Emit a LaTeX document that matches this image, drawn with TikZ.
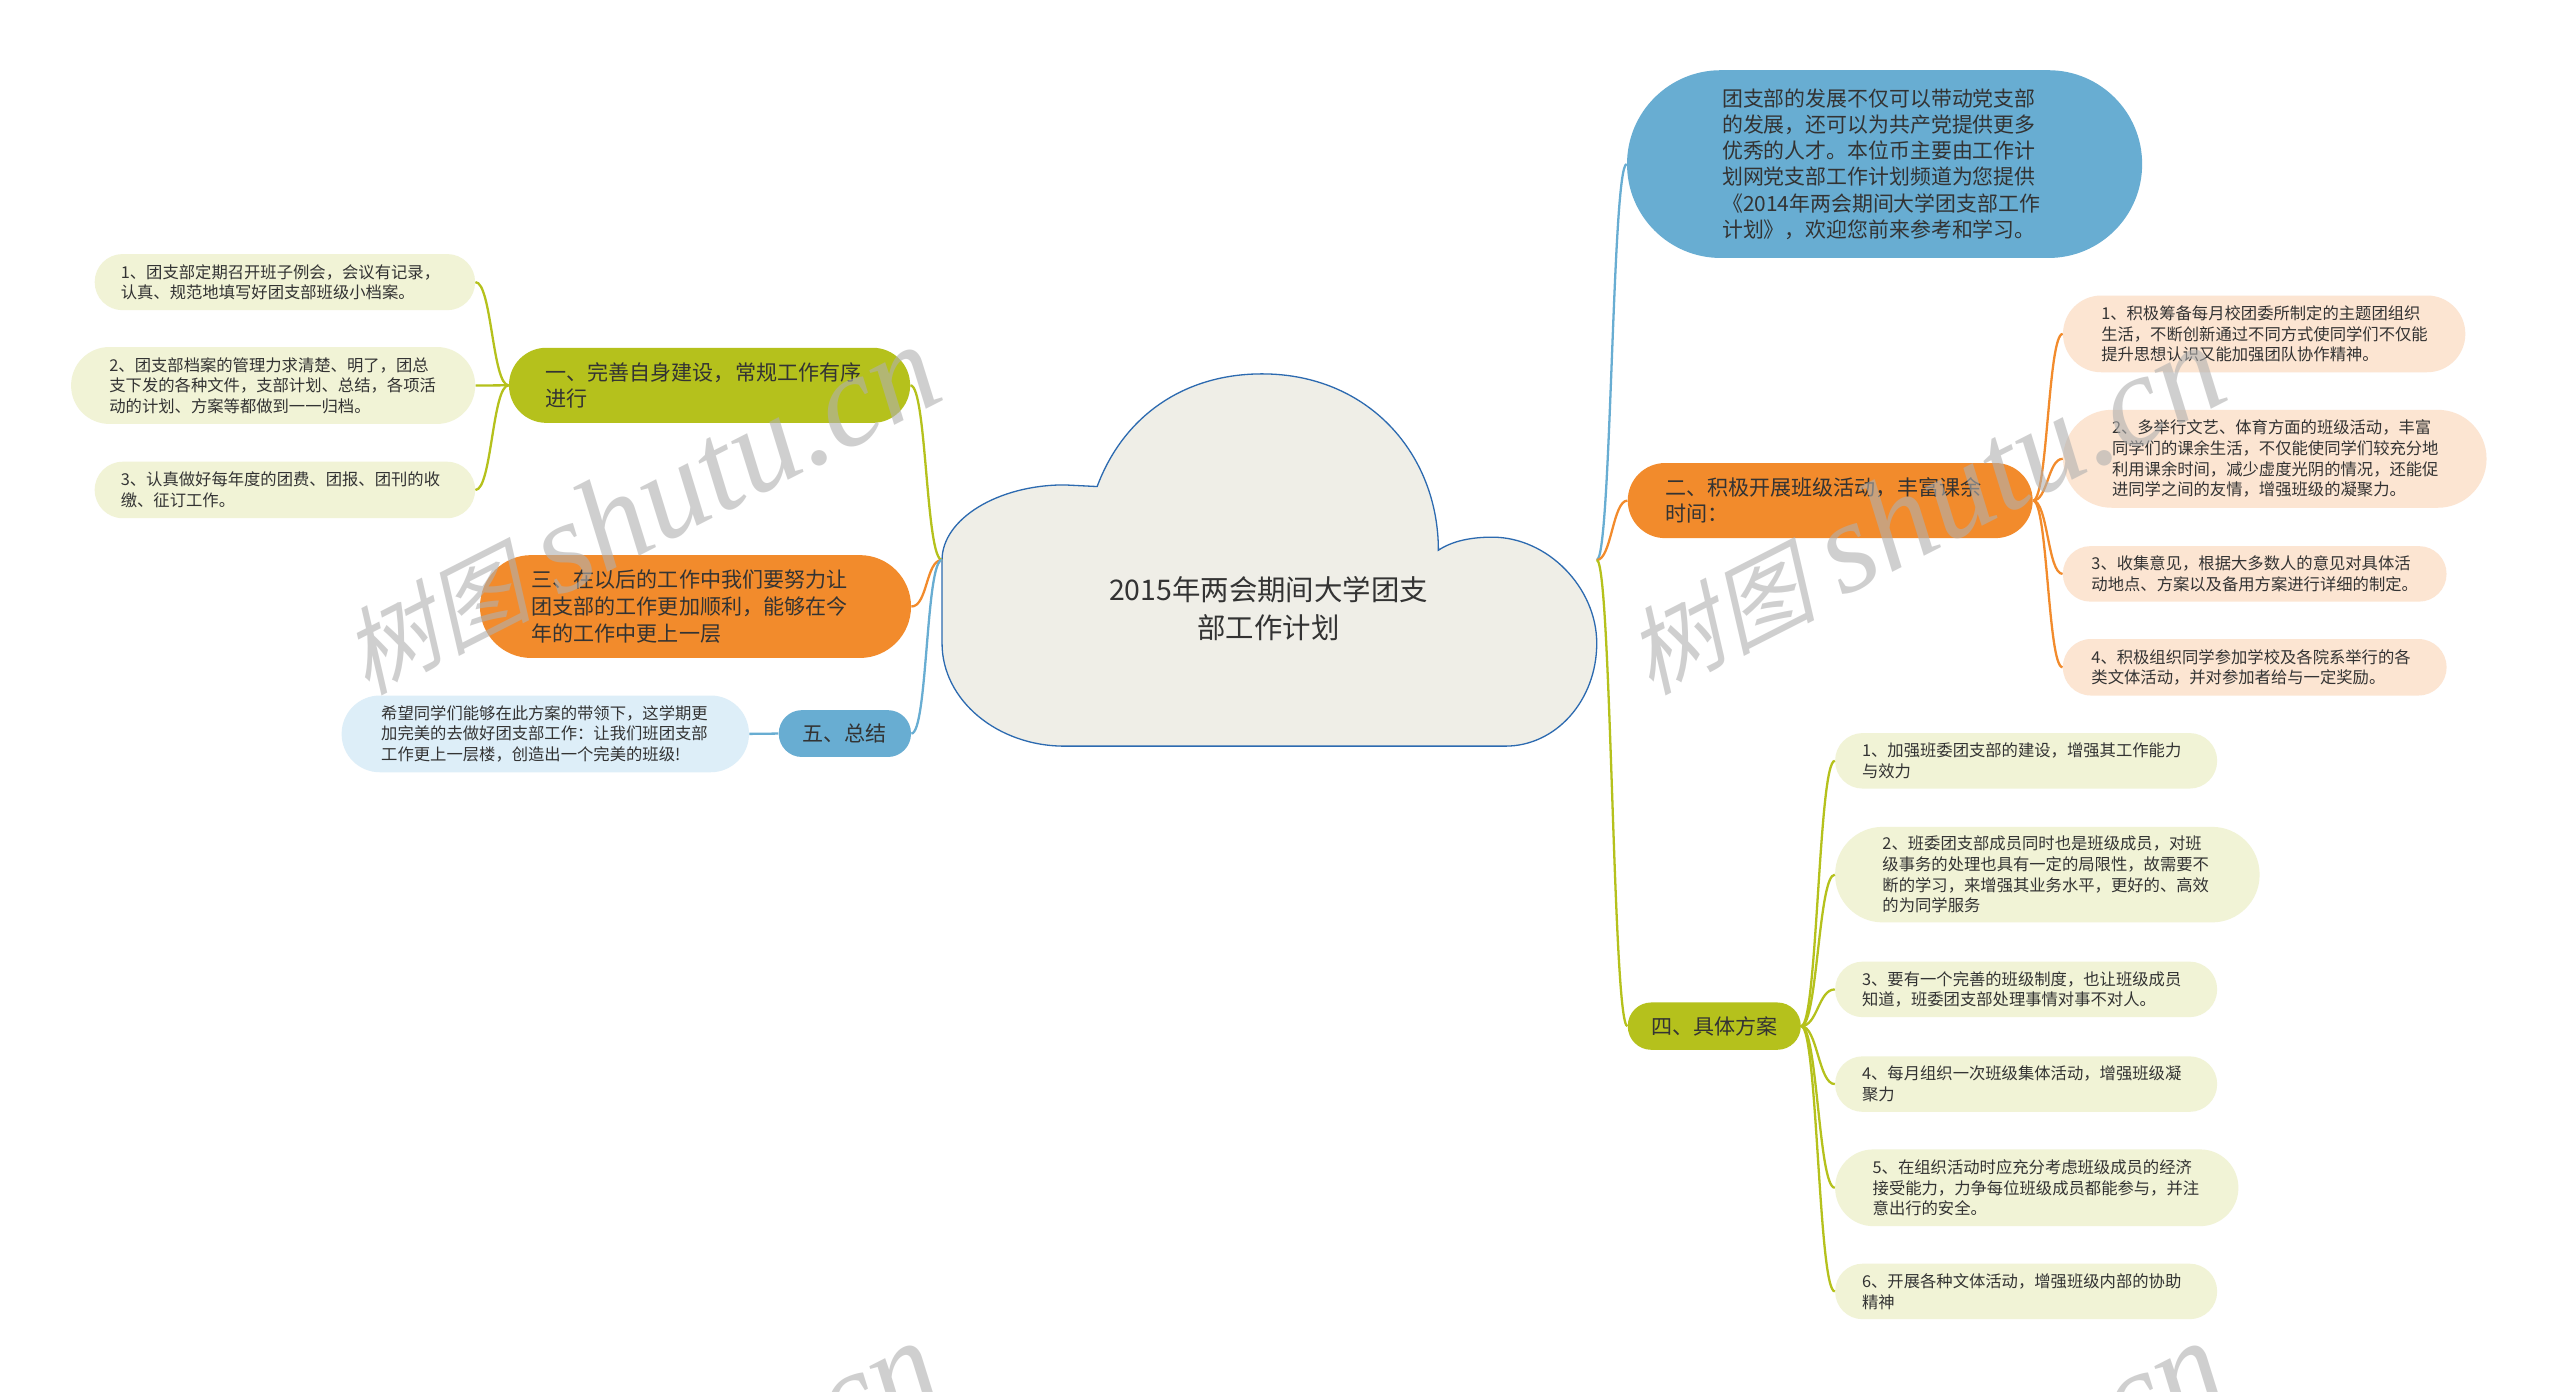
\documentclass[tikz,border=0pt]{standalone}
\usepackage{fontspec}
\usepackage{tikz}
\setmainfont{Noto Sans CJK SC}
\newfontfamily\wmcjk{Noto Sans CJK SC}[FakeSlant=0.25]
\newfontfamily\wmlatin{Liberation Serif}
\definecolor{TextGray}{HTML}{333333}
\definecolor{OliveMain}{HTML}{B5C11C}
\definecolor{OliveTint}{HTML}{F1F3D6}
\definecolor{OrangeMain}{HTML}{F28B2C}
\definecolor{OrangeTint}{HTML}{FCE5D2}
\definecolor{SkyMain}{HTML}{68ADD2}
\definecolor{SkyTint}{HTML}{DDEEF8}
\definecolor{CloudFill}{HTML}{EFEEE7}
\definecolor{CloudLine}{HTML}{2C6AB0}
\definecolor{MarkGray}{HTML}{B0B0B0}

\begin{document}
\begin{tikzpicture}[x=1pt, y=-1pt,
  every node/.style={text=TextGray, inner sep=0pt},
  leaf/.style={rectangle, align=left, font=\fontsize{10}{12.6}\selectfont},
  branch/.style={rectangle, align=left, font=\fontsize{12.9}{16.3}\selectfont},
  linkOlive/.style={OliveMain, line width=1.4pt},
  linkOrange/.style={OrangeMain, line width=1.4pt},
  linkSky/.style={SkyMain, line width=1.4pt},
  watermark/.style={rotate=27, text=MarkGray, opacity=0.6}]
  \useasboundingbox (0,0) rectangle (1568,852);
  \fill[white] (0,0) rectangle (1568,852);

  \draw[CloudLine, fill=CloudFill, line width=0.8pt]
  (577,343) .. controls (577,318) and (611,297) .. (652,297)
  -- (672,298) .. controls (688,255) and (725,229) .. (773,229)
  .. controls (838,229) and (881,278) .. (881,337)
  .. controls (890,331) and (902,329) .. (914,329)
  .. controls (948,329) and (978,360) .. (978,394)
  .. controls (978,429) and (953,457) .. (922,457) -- (652,457)
  .. controls (611,457) and (577,429) .. (577,394) -- cycle;
  \node[align=center, font=\fontsize{17.4}{23.3}\selectfont] (root) at (777,373)
  {2015年两会期间大学团支\\部工作计划};
  \coordinate (rootW) at (577,343);
  \coordinate (rootE) at (978,343);

  \node[branch, fill=OliveMain, minimum width=245.7pt, minimum height=46pt,
  text width=201pt, rounded corners=22.9pt] (b1) at (434.6,236)
  {一、完善自身建设，常规工作有序\\进行};
  \node[leaf, fill=OliveTint, minimum width=233pt, minimum height=34.4pt,
  text width=201pt, rounded corners=17.1pt] (L1) at (174.5,172.8)
  {1、团支部定期召开班子例会，会议有记录，\\认真、规范地填写好团支部班级小档案。};
  \node[leaf, fill=OliveTint, minimum width=247.5pt, minimum height=47.1pt,
  text width=200.6pt, rounded corners=23.4pt] (L2) at (167.3,236.1)
  {2、团支部档案的管理力求清楚、明了，团总\\支下发的各种文件，支部计划、总结，各项活\\动的计划、方案等都做到一一归档。};
  \node[leaf, fill=OliveTint, minimum width=233pt, minimum height=34.6pt,
  text width=201pt, rounded corners=17.2pt] (L3) at (174.5,300.1)
  {3、认真做好每年度的团费、团报、团刊的收\\缴、征订工作。};

  \node[branch, fill=OrangeMain, minimum width=264pt, minimum height=63pt,
  text width=200.8pt, rounded corners=31.4pt] (b3) at (426,371.5)
  {三、在以后的工作中我们要努力让\\团支部的工作更加顺利，能够在今\\年的工作中更上一层};

  \node[branch, align=center, fill=SkyMain, minimum width=81pt, minimum height=28.7pt,
  rounded corners=14.2pt] (b5) at (517.5,449.3) {五、总结};
  \node[leaf, fill=SkyTint, minimum width=249.5pt, minimum height=47pt,
  text width=201pt, rounded corners=23.4pt] (s1) at (334,449.5)
  {希望同学们能够在此方案的带领下，这学期更\\加完美的去做好团支部工作：让我们班团支部\\工作更上一层楼，创造出一个完美的班级!};

  \node[branch, fill=SkyMain, minimum width=315.5pt, minimum height=115pt,
  text width=199pt, rounded corners=57.4pt, font=\fontsize{12.8}{16.1}\selectfont]
  (t0) at (1154.3,100.5)
  {团支部的发展不仅可以带动党支部\\的发展，还可以为共产党提供更多\\优秀的人才。本位币主要由工作计\\划网党支部工作计划频道为您提供\\《2014年两会期间大学团支部工作\\计划》，欢迎您前来参考和学习。};

  \node[branch, fill=OrangeMain, minimum width=248pt, minimum height=46pt,
  text width=202pt, rounded corners=22.9pt] (b2) at (1121,306.6)
  {二、积极开展班级活动，丰富课余\\时间：};
  \node[leaf, fill=OrangeTint, minimum width=246.4pt, minimum height=47pt,
  text width=199.6pt, rounded corners=23.4pt] (R1) at (1386.8,204.5)
  {1、积极筹备每月校团委所制定的主题团组织\\生活，不断创新通过不同方式使同学们不仅能\\提升思想认识又能加强团队协作精神。};
  \node[leaf, fill=OrangeTint, minimum width=259.4pt, minimum height=60pt,
  text width=199.4pt, rounded corners=29.9pt] (R2) at (1393.3,281)
  {2、多举行文艺、体育方面的班级活动，丰富\\同学们的课余生活，不仅能使同学们较充分地\\利用课余时间，减少虚度光阴的情况，还能促\\进同学之间的友情，增强班级的凝聚力。};
  \node[leaf, fill=OrangeTint, minimum width=235pt, minimum height=34pt,
  text width=200pt, rounded corners=16.9pt] (R3) at (1381,351.5)
  {3、收集意见，根据大多数人的意见对具体活\\动地点、方案以及备用方案进行详细的制定。};
  \node[leaf, fill=OrangeTint, minimum width=235pt, minimum height=34.6pt,
  text width=200pt, rounded corners=17.2pt] (R4) at (1381,408.7)
  {4、积极组织同学参加学校及各院系举行的各\\类文体活动，并对参加者给与一定奖励。};

  \node[branch, align=center, fill=OliveMain, minimum width=106pt, minimum height=29pt,
  rounded corners=14.4pt] (b4) at (1050,628.5) {四、具体方案};
  \node[leaf, fill=OliveTint, minimum width=234pt, minimum height=34pt,
  text width=201pt, rounded corners=16.9pt] (Y1) at (1241,466)
  {1、加强班委团支部的建设，增强其工作能力\\与效力};
  \node[leaf, fill=OliveTint, minimum width=260pt, minimum height=58.5pt,
  text width=202pt, rounded corners=29.1pt] (Y2) at (1254,535.7)
  {2、班委团支部成员同时也是班级成员，对班\\级事务的处理也具有一定的局限性，故需要不\\断的学习，来增强其业务水平，更好的、高效\\的为同学服务};
  \node[leaf, fill=OliveTint, minimum width=234pt, minimum height=34pt,
  text width=201pt, rounded corners=16.9pt] (Y3) at (1241,606)
  {3、要有一个完善的班级制度，也让班级成员\\知道，班委团支部处理事情对事不对人。};
  \node[leaf, fill=OliveTint, minimum width=234pt, minimum height=34pt,
  text width=201pt, rounded corners=16.9pt] (Y4) at (1241,664)
  {4、每月组织一次班级集体活动，增强班级凝\\聚力};
  \node[leaf, fill=OliveTint, minimum width=247pt, minimum height=47pt,
  text width=201pt, rounded corners=23.4pt] (Y5) at (1247.5,727.5)
  {5、在组织活动时应充分考虑班级成员的经济\\接受能力，力争每位班级成员都能参与，并注\\意出行的安全。};
  \node[leaf, fill=OliveTint, minimum width=234pt, minimum height=34pt,
  text width=201pt, rounded corners=16.9pt] (Y6) at (1241,791)
  {6、开展各种文体活动，增强班级内部的协助\\精神};

  \draw[linkOlive] (rootW) .. controls +(-10,0) and +(10,0) .. (b1.east);
  \draw[linkOrange] (rootW) .. controls +(-10,0) and +(10,0) .. (b3.east);
  \draw[linkSky] (rootW) .. controls +(-10,0) and +(10,0) .. (b5.east);
  \draw[linkSky] (rootE) .. controls +(9,0) and +(-9,0) .. (t0.west);
  \draw[linkOrange] (rootE) .. controls +(9,0) and +(-9,0) .. (b2.west);
  \draw[linkOlive] (rootE) .. controls +(9,0) and +(-9,0) .. (b4.west);

  \foreach \leaf in {L1,L2,L3}
    \draw[linkOlive] (b1.west) .. controls +(-10,0) and +(10,0) .. (\leaf.east);
  \draw[linkSky] (b5.west) -- (s1.east);
  \foreach \leaf in {R1,R2,R3,R4}
    \draw[linkOrange] (b2.east) .. controls +(9,0) and +(-9,0) .. (\leaf.west);
  \foreach \leaf in {Y1,Y2,Y3,Y4,Y5,Y6}
    \draw[linkOlive] (b4.east) .. controls +(10,0) and +(-10,0) .. (\leaf.west);

  \begin{scope}
    \clip (0,0) rectangle (1568,852);
    \foreach \dx/\dy in {0/0, 787/0, 0/610, 787/610}
      \node[watermark, anchor=base west] (wm-\dx-\dy) at (224+\dx,426+\dy)
      {{\wmcjk\fontsize{58}{58}\selectfont 树图}\hspace{16pt}{\wmlatin\itshape\fontsize{80}{80}\selectfont shutu.cn}};
  \end{scope}
\end{tikzpicture}
\end{document}
